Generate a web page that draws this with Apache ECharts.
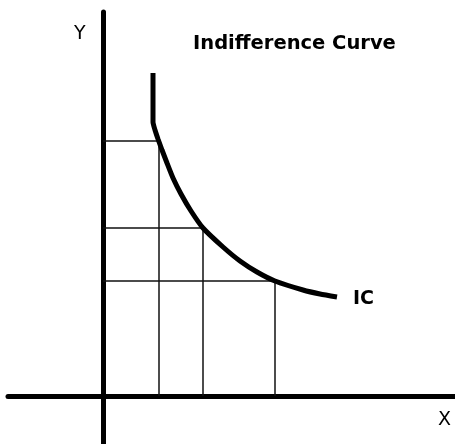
<!DOCTYPE html>
<html>
<head>
<meta charset="utf-8">
<script src="https://cdn.jsdelivr.net/npm/echarts@6/dist/echarts.min.js"></script>
<style>
  html,body{margin:0;padding:0;background:#fff;}
  #chart{width:455px;height:444px;}
</style>
</head>
<body>
<div id="chart"></div>
<script>
// indifference curve points (x, y), origin at the axes crossing
let curveX = [50, 50, 52, 55, 59, 64, 70, 78, 88, 100, 120, 137, 154, 172, 200, 217, 234];
let curveY = [323, 274, 266, 257, 246, 233, 218, 202, 185, 168, 149, 135, 124, 115, 106, 102, 99];

// bundles marked on the curve (drop lines to both axes)
let guideX = [56, 100, 172];
let guideY = [255, 168, 115];

let titleText = "Indifference Curve";
let curveName = "IC";
let xName = "X", yName = "Y";

let font = "DejaVu Sans";

let curveData = curveX.map((x, i) => [x, curveY[i]]);

let guideSeries = guideX.map((x, i) => ({
    type: "line",
    data: [[0, guideY[i]], [x, guideY[i]], [x, 0]],
    symbol: "none",
    silent: true,
    lineStyle: { color: "#111", width: 1.5 },
    z: 2
}));

let myChart = echarts.init(document.getElementById("chart"));
myChart.setOption({
    backgroundColor: "#fff",
    animation: false,
    title: [
        { text: titleText, left: 193, top: 34, padding: 0,
          textStyle: { fontFamily: font, fontSize: 19.5, fontWeight: "bold", color: "#000" } },
        { text: yName, left: 74, top: 25, padding: 0,
          textStyle: { fontFamily: font, fontSize: 19, fontWeight: "normal", color: "#000" } },
        { text: xName, left: 438, top: 411, padding: 0,
          textStyle: { fontFamily: font, fontSize: 19, fontWeight: "normal", color: "#000" } }
    ],
    grid: { left: 8, right: 0, top: 12, bottom: 0 },
    xAxis: {
        type: "value", min: -95, max: 352,
        axisLine: { onZero: true, lineStyle: { color: "#000", width: 5 } },
        axisTick: { show: false }, axisLabel: { show: false }, splitLine: { show: false }
    },
    yAxis: {
        type: "value", min: -48, max: 384,
        axisLine: { onZero: true, lineStyle: { color: "#000", width: 5 } },
        axisTick: { show: false }, axisLabel: { show: false }, splitLine: { show: false }
    },
    series: [
        {
            type: "line",
            name: curveName,
            data: curveData,
            symbol: "none",
            smooth: 0.2,
            lineStyle: { color: "#000", width: 5 },
            endLabel: {
                show: true, formatter: curveName, distance: 16, offset: [0, 2],
                fontFamily: font, fontSize: 19, fontWeight: "bold", color: "#000"
            },
            z: 3
        }
    ].concat(guideSeries)
});
</script>
</body>
</html>
